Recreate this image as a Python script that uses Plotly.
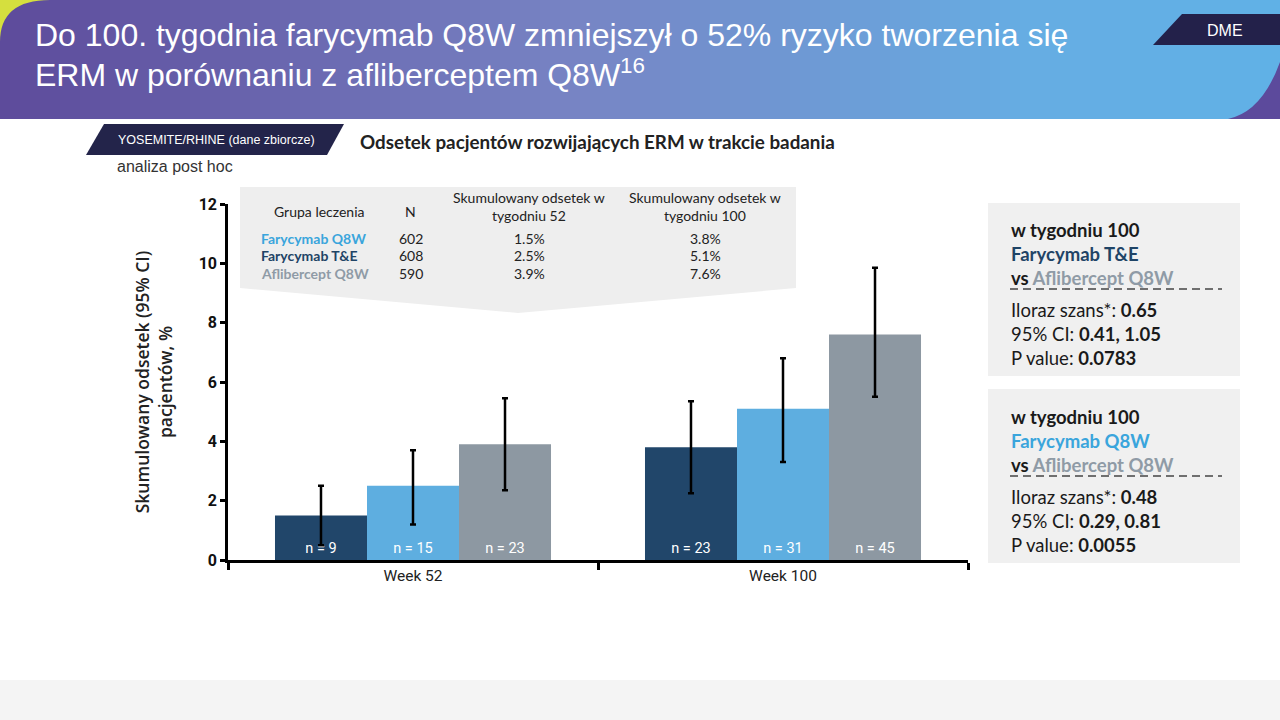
import plotly.graph_objects as go

# ---------------- data ----------------
categories = ["Week 52", "Week 100"]
series_names = ["Farycymab Q8W", "Farycymab T&E", "Aflibercept Q8W"]
series_values = [[1.5, 3.8], [2.5, 5.1], [3.9, 7.6]]
ci_upper = [[2.5, 5.35], [3.7, 6.8], [5.45, 9.85]]
ci_lower = [[0.5, 2.25], [1.2, 3.3], [2.35, 5.5]]
n_labels = [[9, 23], [15, 31], [23, 45]]
bar_colors = ["#21466a", "#5eaee0", "#8d98a2"]

table_groups = ["Farycymab Q8W", "Farycymab T&E", "Aflibercept Q8W"]
table_group_colors = ["#3aa5dc", "#1f4466", "#8f9ba6"]
table_n = [602, 608, 590]
table_w52 = ["1.5%", "2.5%", "3.9%"]
table_w100 = ["3.8%", "5.1%", "7.6%"]

y_ticks = [0, 2, 4, 6, 8, 10, 12]

title_lines = ["Do 100. tygodnia farycymab Q8W zmniejszył o 52% ryzyko tworzenia się",
               "ERM w porównaniu z afliberceptem Q8W<sup>16</sup>"]
box_titles = [("Farycymab T&E", "#1f4466"), ("Farycymab Q8W", "#3aa5dc")]
box_or = ["0.65", "0.48"]
box_ci = ["0.41, 1.05", "0.29, 0.81"]
box_p = ["0.0783", "0.0055"]

TITLE_FONT = "Liberation Sans, Arial, sans-serif"
BODY = "Lato, Open Sans, sans-serif"
AXISF = "Roboto, sans-serif"

# --------------- layout geometry (pixels) ---------------
W, H = 1280, 720
L, R, T, B = 228, 312, 204, 160
X0, X1 = L, W - R
YT, YB = T, H - B


def px(x):
    return (x - X0) / (X1 - X0)


def py(y):
    return (YB - y) / (YB - YT)


fig = go.Figure()
for i, name in enumerate(series_names):
    vals = series_values[i]
    fig.add_trace(go.Bar(
        x=categories, y=vals, name=name,
        marker=dict(color=bar_colors[i], line=dict(width=0)),
        error_y=dict(type="data", symmetric=False,
                     array=[u - v for u, v in zip(ci_upper[i], vals)],
                     arrayminus=[v - l for l, v in zip(ci_lower[i], vals)],
                     color="black", thickness=2.5, width=3),
        text=[f"n = {n}" for n in n_labels[i]],
        textposition="inside", insidetextanchor="start", textangle=0,
        constraintext="none",
        textfont=dict(color="white", size=14.5, family=AXISF),
        hoverinfo="skip",
    ))

shapes = []
annotations = []

# header gradient
stops = [(0.0, (0x5d, 0x4a, 0x9b)), (0.45, (0x77, 0x84, 0xc4)),
         (0.8, (0x66, 0xad, 0xe3)), (1.0, (0x60, 0xb1, 0xe6))]


def grad(t):
    for (t0, c0), (t1, c1) in zip(stops[:-1], stops[1:]):
        if t0 <= t <= t1:
            f = (t - t0) / (t1 - t0)
            return "rgb(%d,%d,%d)" % tuple(round(a + (b - a) * f) for a, b in zip(c0, c1))
    return "rgb(%d,%d,%d)" % stops[-1][1]


NS = 128
for i in range(NS):
    xa = W * i / NS
    xb = W * (i + 1) / NS + 1
    shapes.append(dict(type="rect", xref="paper", yref="paper",
                       x0=px(xa), x1=px(min(xb, W)), y0=py(0), y1=py(119),
                       fillcolor=grad((i + 0.5) / NS), line=dict(width=0), layer="below"))

# yellow corner
shapes.append(dict(type="path", xref="paper", yref="paper",
                   path=f"M {px(0)},{py(0)} L {px(50)},{py(0)} Q {px(0)},{py(0)} {px(0)},{py(42)} Z",
                   fillcolor="#d5df3e", line=dict(width=0), layer="below"))
# purple curve bottom right
shapes.append(dict(type="path", xref="paper", yref="paper",
                   path=f"M {px(1280)},{py(62)} Q {px(1262)},{py(112)} {px(1228)},{py(119)} L {px(1280)},{py(119)} Z",
                   fillcolor="#5c4a9c", line=dict(width=0), layer="below"))
# DME tag
shapes.append(dict(type="path", xref="paper", yref="paper",
                   path=f"M {px(1182)},{py(14)} L {px(1280)},{py(14)} L {px(1280)},{py(45)} L {px(1153)},{py(45)} Z",
                   fillcolor="#23214a", line=dict(width=0), layer="below"))
# footer
shapes.append(dict(type="rect", xref="paper", yref="paper",
                   x0=px(0), x1=px(1280), y0=py(680), y1=py(720),
                   fillcolor="#f4f4f4", line=dict(width=0), layer="below"))
# study tag
shapes.append(dict(type="path", xref="paper", yref="paper",
                   path=f"M {px(104)},{py(124)} L {px(344)},{py(124)} L {px(327)},{py(155)} L {px(86)},{py(155)} Z",
                   fillcolor="#23244a", line=dict(width=0), layer="below"))
# table chevron box
shapes.append(dict(type="path", xref="paper", yref="paper",
                   path=(f"M {px(240)},{py(187)} L {px(796)},{py(187)} L {px(796)},{py(288)} "
                         f"L {px(518)},{py(313)} L {px(240)},{py(288)} Z"),
                   fillcolor="#eeeeee", line=dict(width=0), layer="below"))
# right boxes
for (ya, yb) in [(203, 376), (389, 563)]:
    shapes.append(dict(type="rect", xref="paper", yref="paper",
                       x0=px(988), x1=px(1240), y0=py(ya), y1=py(yb),
                       fillcolor="#f0f0f0", line=dict(width=0), layer="below"))


def ann(x, y, text, size, color="#222222", xanchor="left", family=BODY, yanchor="middle",
        align="left", weight=None):
    f = dict(size=size, color=color, family=family)
    if weight:
        f["weight"] = weight
    annotations.append(dict(x=px(x), y=py(y), xref="paper", yref="paper", text=text,
                            showarrow=False, xanchor=xanchor, yanchor=yanchor, align=align,
                            font=f))


# header title
ann(33, 35, title_lines[0], 32, "white", family=TITLE_FONT)
ann(33, 73, title_lines[1], 32, "white", family=TITLE_FONT)
ann(1225, 30, "DME", 16, "white", xanchor="center", family=TITLE_FONT)
ann(216, 140, "YOSEMITE/RHINE (dane zbiorcze)", 12.5, "white", xanchor="center", family=TITLE_FONT)
ann(115, 167, "analiza post hoc", 16, "#333333", family=TITLE_FONT)
ann(358, 142, "<b>Odsetek pacjentów rozwijających ERM w trakcie badania</b>", 18.8, "#222222")

# table
ann(319, 211, "Grupa leczenia", 14, xanchor="center")
ann(410, 211, "N", 14, xanchor="center")
ann(529, 206, "Skumulowany odsetek w<br>tygodniu 52", 14, xanchor="center", align="center")
ann(705, 206, "Skumulowany odsetek w<br>tygodniu 100", 14, xanchor="center", align="center")
row_y = [238, 255.5, 273]
for i, g in enumerate(table_groups):
    ann(259, row_y[i], f"<b>{g}</b>", 14, table_group_colors[i])
    ann(411, row_y[i], str(table_n[i]), 14, xanchor="center")
    ann(529, row_y[i], table_w52[i], 14, xanchor="center")
    ann(705, row_y[i], table_w100[i], 14, xanchor="center")

# right boxes text
for k, y0 in enumerate([229, 416]):
    name, col = box_titles[k]
    ann(1009, y0 - 12, f"<b>w tygodniu 100</b><br><b><span style='color:{col}'>{name}</span></b><br>"
                       f"<b>vs <span style='color:#8f9ba6'>Aflibercept Q8W</span></b>",
        18.5, "#1a1a1a", yanchor="top")
    ann(1009, y0 + 68, f"Iloraz szans*: <b>{box_or[k]}</b><br>95% CI: <b>{box_ci[k]}</b><br>"
                       f"P value: <b>{box_p[k]}</b>",
        18.5, "#1a1a1a", yanchor="top")
    shapes.append(dict(type="line", xref="paper", yref="paper",
                       x0=px(1010), x1=px(1222), y0=py(y0 + 60), y1=py(y0 + 60),
                       line=dict(color="#444444", width=1.5, dash="8px,5px")))

fig.update_layout(
    width=W, height=H,
    margin=dict(l=L, r=R, t=T, b=B, pad=0),
    paper_bgcolor="white", plot_bgcolor="white",
    barmode="group", bargap=0.254, bargroupgap=0,
    showlegend=False,
    shapes=shapes, annotations=annotations,
    xaxis=dict(type="category", tickson="boundaries", ticks="outside", ticklen=7,
               tickwidth=2.5, tickcolor="black", showline=True, linecolor="black",
               linewidth=2.5, showgrid=False, zeroline=False,
               tickfont=dict(family=AXISF, size=15.5, color="#222222")),
    yaxis=dict(range=[0, 12], tickvals=y_ticks, ticks="outside", ticklen=5,
               tickwidth=2.5, tickcolor="black", showline=True, linecolor="black",
               linewidth=2.5, showgrid=False, zeroline=False,
               tickfont=dict(family=AXISF, size=16, color="#111111", weight="bold"),
               title=dict(text="Skumulowany odsetek (95% CI)<br>pacjentów, %",
                          font=dict(family="Open Sans, sans-serif", size=17.5, color="#222222", weight=600),
                          standoff=22)),
)

fig.write_html("out.html", config={"displayModeBar": False},
               post_script="document.body.style.margin='0';document.body.style.overflow='hidden';")
